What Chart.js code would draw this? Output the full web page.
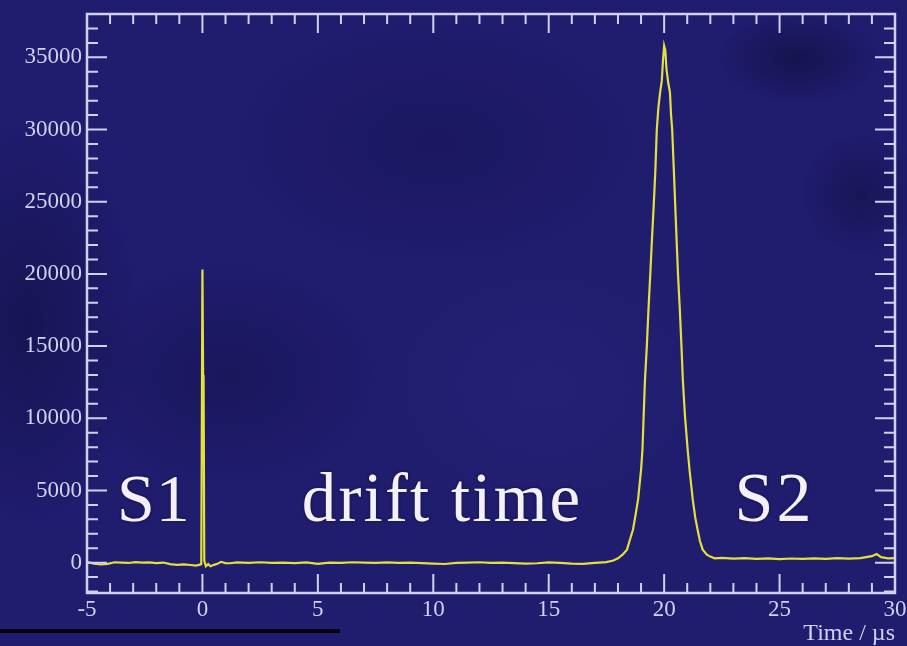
<!DOCTYPE html>
<html>
<head>
<meta charset="utf-8">
<script src="https://cdn.jsdelivr.net/npm/chart.js@4/dist/chart.umd.min.js"></script>
<style>
  html, body { margin:0; padding:0; }
  body {
    width:907px; height:646px; overflow:hidden; position:relative;
    background:
      radial-gradient(ellipse 80px 45px at 88% 9%, rgba(6,6,30,0.4), rgba(6,6,30,0) 100%),
      radial-gradient(ellipse 60px 60px at 95% 30%, rgba(6,6,30,0.3), rgba(6,6,30,0) 100%),
      radial-gradient(ellipse 150px 110px at 25% 58%, rgba(8,8,40,0.25), rgba(8,8,40,0) 100%),
      radial-gradient(ellipse 200px 120px at 48% 22%, rgba(8,8,40,0.2), rgba(8,8,40,0) 100%),
      radial-gradient(ellipse 180px 140px at 60% 60%, rgba(60,60,150,0.15), rgba(60,60,150,0) 100%),
      radial-gradient(ellipse 110px 200px at 3% 50%, rgba(6,6,35,0.35), rgba(6,6,35,0) 100%),
      #201c6e;
  }
  canvas { position:absolute; left:0; top:0; }
  #bar { position:absolute; left:0; top:629px; width:340px; height:4px; background:#050510; }
</style>
</head>
<body>
<canvas id="c" width="907" height="646"></canvas>
<div id="bar"></div>
<script>
// ---- data ----
const timeUs = [
  -5.0, -4.7, -4.4, -4.1, -3.8, -3.5, -3.2, -2.9, -2.6, -2.3, -2.0, -1.7, -1.4, -1.1, -0.8, -0.5, -0.3, -0.15, -0.05,
  0.0, 0.03, 0.05, 0.08, 0.15, 0.25, 0.35, 0.5, 0.65, 0.8, 1.0, 1.2,
  1.5, 2.0, 2.5, 3.0, 3.5, 4.0, 4.5, 5.0, 5.5, 6.0, 6.5, 7.0, 7.5, 8.0, 8.5, 9.0, 9.5, 10.0, 10.5,
  11.0, 11.5, 12.0, 12.5, 13.0, 13.5, 14.0, 14.5, 15.0, 15.5, 16.0, 16.5, 17.0, 17.5,
  17.8, 18.0, 18.2, 18.39, 18.5, 18.65, 18.75, 18.87, 19.0, 19.06, 19.12, 19.17, 19.25, 19.32, 19.4, 19.47,
  19.55, 19.62, 19.68, 19.75, 19.82, 19.9, 19.95, 20.0, 20.05, 20.1, 20.18, 20.25, 20.3, 20.35, 20.42,
  20.54, 20.6, 20.68, 20.75, 20.81, 20.9, 21.02, 21.1, 21.24, 21.35, 21.45, 21.55, 21.67, 21.85, 22.0, 22.19,
  22.5, 23.0, 23.5, 24.0, 24.5, 25.0, 25.5, 26.0, 26.5, 27.0, 27.5, 28.0, 28.5, 29.0, 29.2, 29.4, 29.7, 30.0
];
const counts = [
  50, -60, -120, -80, 30, 10, -20, 40, 0, 20, -30, 10, -100, -150, -120, -160, -200, -150, -100,
  20300, 13000, 12900, 150, -250, -100, -250, -150, -80, 60, -30, -40,
  20, -10, 30, -20, 10, -30, 20, -80, 10, -20, 30, 0, -20, 20, -10, 10, -30, -60, -90,
  -20, 10, 30, -10, 0, -30, -70, -40, 20, -10, -60, -80, -20, 40,
  150, 300, 550, 900, 1500, 2280, 3200, 4360, 6430, 7815, 10500, 12660, 15000, 17500, 20000, 22340,
  24800, 27180, 29950, 31500, 32500, 33400, 34800, 35800, 35500, 34200, 33200, 32600, 31000, 29950, 27180,
  22340, 20000, 17500, 15000, 12660, 10200, 7815, 6430, 4360, 3100, 2280, 1500, 900, 550, 420, 300,
  330, 280, 320, 260, 300, 250, 290, 260, 300, 270, 310, 280, 320, 450, 600, 380, 300, 320
];
const xTicks = [-5, 0, 5, 10, 15, 20, 25, 30];
const yTicks = [0, 5000, 10000, 15000, 20000, 25000, 30000, 35000];
const annotations = [
  { text: 'S1', x: -3.7, y: 2900, size: 68, spacing: 1 },
  { text: 'drift time', x: 4.3, y: 2900, size: 69, spacing: 2.2 },
  { text: 'S2', x: 23.05, y: 2900, size: 70, spacing: 3 }
];
const xTitle = 'Time / µs';

// ---- chart ----
const axisColor = '#d2d0ee';
const serif = '"Liberation Serif", "DejaVu Serif", serif';

const framePlugin = {
  id: 'rootFrame',
  afterDraw(chart) {
    const { ctx, chartArea: a, scales: { x, y } } = chart;
    ctx.save();
    ctx.strokeStyle = axisColor;
    ctx.lineWidth = 2;
    ctx.beginPath();
    for (let v = Math.ceil(x.min); v <= x.max; v += 1) {
      const px = x.getPixelForValue(v);
      const len = (v % 5 === 0) ? 19 : 10;
      ctx.moveTo(px, a.bottom); ctx.lineTo(px, a.bottom - len);
      ctx.moveTo(px, a.top); ctx.lineTo(px, a.top + len);
    }
    for (let v = Math.ceil(y.min / 1000) * 1000; v <= y.max; v += 1000) {
      const py = y.getPixelForValue(v);
      const len = (v % 5000 === 0) ? 20 : 11;
      ctx.moveTo(a.left, py); ctx.lineTo(a.left + len, py);
      ctx.moveTo(a.right, py); ctx.lineTo(a.right - len, py);
    }
    ctx.stroke();
    ctx.lineWidth = 2.5;
    ctx.strokeRect(a.left, a.top, a.right - a.left, a.bottom - a.top);
    ctx.fillStyle = '#f3f0f7';
    ctx.textAlign = 'left';
    ctx.textBaseline = 'alphabetic';
    ctx.shadowColor = 'rgba(0,0,0,0.5)';
    ctx.shadowBlur = 3;
    for (const t of annotations) {
      ctx.font = t.size + 'px ' + serif;
      ctx.letterSpacing = t.spacing + 'px';
      ctx.fillText(t.text, x.getPixelForValue(t.x), y.getPixelForValue(t.y));
    }
    ctx.restore();
  }
};

new Chart(document.getElementById('c'), {
  type: 'scatter',
  data: {
    datasets: [{
      data: timeUs.map((t, i) => ({ x: t, y: counts[i] })),
      showLine: true,
      borderColor: '#e4e03c',
      borderWidth: 2.2,
      pointRadius: 0,
      tension: 0
    }]
  },
  options: {
    responsive: false,
    animation: false,
    layout: { padding: { top: 14, right: 12, left: 0, bottom: 0 } },
    plugins: { legend: { display: false }, tooltip: { enabled: false } },
    scales: {
      x: {
        type: 'linear', min: -5, max: 30,
        afterBuildTicks: s => { s.ticks = xTicks.map(v => ({ value: v })); },
        afterFit: s => { s.height = 53; s.paddingLeft = 0; s.paddingRight = 0; },
        grid: { display: false, drawTicks: false },
        border: { display: false },
        ticks: { padding: 3, color: axisColor, font: { family: serif, size: 23 }, callback: v => String(v), maxRotation: 0 },
        title: { display: true, text: xTitle, align: 'end', color: axisColor, font: { family: serif, size: 24 }, padding: { top: 0, bottom: -2 } }
      },
      y: {
        type: 'linear', min: -2100, max: 38000,
        afterBuildTicks: s => { s.ticks = yTicks.map(v => ({ value: v })); },
        afterFit: s => { s.width = 87; s.paddingTop = 0; s.paddingBottom = 0; },
        grid: { display: false, drawTicks: false },
        border: { display: false },
        ticks: { padding: 5, color: axisColor, font: { family: serif, size: 23 }, callback: v => String(v) }
      }
    }
  },
  plugins: [framePlugin]
});
</script>
</body>
</html>
